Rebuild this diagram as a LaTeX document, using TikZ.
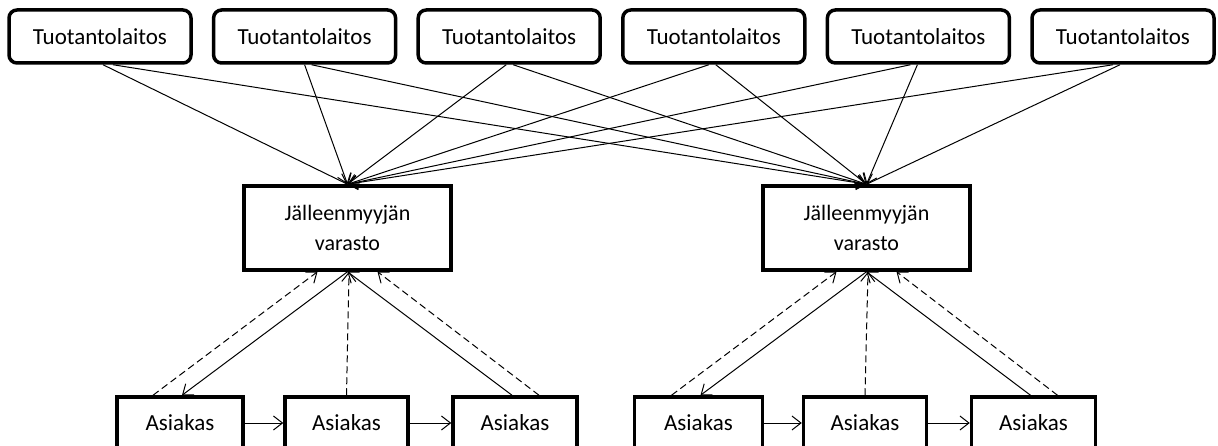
\documentclass[tikz,border=0pt]{standalone}
\usepackage{fontspec}
\setmainfont{Carlito}
\usetikzlibrary{arrows.meta}

\begin{document}
\begin{tikzpicture}[x=1pt,y=-1pt,
  factory/.style={draw, line width=3.5pt, rounded corners=8pt,
    minimum width=182pt, minimum height=53pt, inner sep=0pt,
    font=\fontsize{23}{28}\selectfont},
  store/.style={draw, line width=3.5pt, minimum width=207pt,
    minimum height=84pt, inner sep=0pt, align=center,
    font=\fontsize{22}{30}\selectfont},
  client/.style={draw, line width=3.5pt, minimum height=52pt,
    inner sep=0pt, font=\fontsize{23}{28}\selectfont},
  flow/.style={line width=1pt, -{Straight Barb[length=9pt,width=14pt]}},
  info/.style={flow, dash pattern=on 7pt off 4pt}
]
\path[use as bounding box, fill=white] (0,0) rectangle (1218,446);

% production plants
\node[factory] (t1) at (100,36.5)   {Tuotantolaitos};
\node[factory] (t2) at (304.6,36.5) {Tuotantolaitos};
\node[factory] (t3) at (509.2,36.5) {Tuotantolaitos};
\node[factory] (t4) at (713.8,36.5) {Tuotantolaitos};
\node[factory] (t5) at (918.4,36.5) {Tuotantolaitos};
\node[factory] (t6) at (1123,36.5)  {Tuotantolaitos};

% retailer warehouses
\node[store] (w1) at (347.5,228) {Jälleenmyyjän\\varasto};
\node[store] (w2) at (866.5,228) {Jälleenmyyjän\\varasto};

% customers
\node[client, minimum width=126pt] (c1) at (180,423)    {Asiakas};
\node[client, minimum width=123pt] (c2) at (346.5,423)  {Asiakas};
\node[client, minimum width=124pt] (c3) at (515,423)    {Asiakas};
\node[client, minimum width=128pt] (c4) at (698.5,423)  {Asiakas};
\node[client, minimum width=123pt] (c5) at (865,423)    {Asiakas};
\node[client, minimum width=124pt] (c6) at (1033.5,423) {Asiakas};

% deliveries from every plant to both warehouses
\draw[flow] ([xshift=3pt]t1.south)  -- (w1.north);
\draw[flow] ([xshift=13pt]t1.south) -- (w2.north);
\draw[flow] ([xshift=0pt]t2.south)  -- (w1.north);
\draw[flow] ([xshift=7pt]t2.south)  -- (w2.north);
\draw[flow] ([xshift=-3pt]t3.south) -- (w1.north);
\draw[flow] ([xshift=4pt]t3.south)  -- (w2.north);
\draw[flow] ([xshift=-5pt]t4.south) -- (w1.north);
\draw[flow] ([xshift=2pt]t4.south)  -- (w2.north);
\draw[flow] ([xshift=-8pt]t5.south) -- (w1.north);
\draw[flow] ([xshift=-1pt]t5.south) -- (w2.north);
\draw[flow] ([xshift=-10pt]t6.south) -- (w1.north);
\draw[flow] ([xshift=-3pt]t6.south)  -- (w2.north);

% first warehouse and its customers
\draw[info] ([xshift=-27pt]c1.north) -- ([xshift=-30pt]w1.south);
\draw[flow] (w1.south) -- ([xshift=2pt]c1.north);
\draw[info] (c2.north) -- ([xshift=1.5pt]w1.south);
\draw[flow] ([xshift=-3pt]c3.north) -- (w1.south);
\draw[info] ([xshift=24pt]c3.north) -- ([xshift=30pt]w1.south);
\draw[flow] (c1) -- (c2);
\draw[flow] (c2) -- (c3);

% second warehouse and its customers
\draw[info] ([xshift=-27pt]c4.north) -- ([xshift=-30pt]w2.south);
\draw[flow] (w2.south) -- ([xshift=2pt]c4.north);
\draw[info] (c5.north) -- ([xshift=1.5pt]w2.south);
\draw[flow] ([xshift=-3pt]c6.north) -- (w2.south);
\draw[info] ([xshift=24pt]c6.north) -- ([xshift=30pt]w2.south);
\draw[flow] (c4) -- (c5);
\draw[flow] (c5) -- (c6);
\end{tikzpicture}
\end{document}
